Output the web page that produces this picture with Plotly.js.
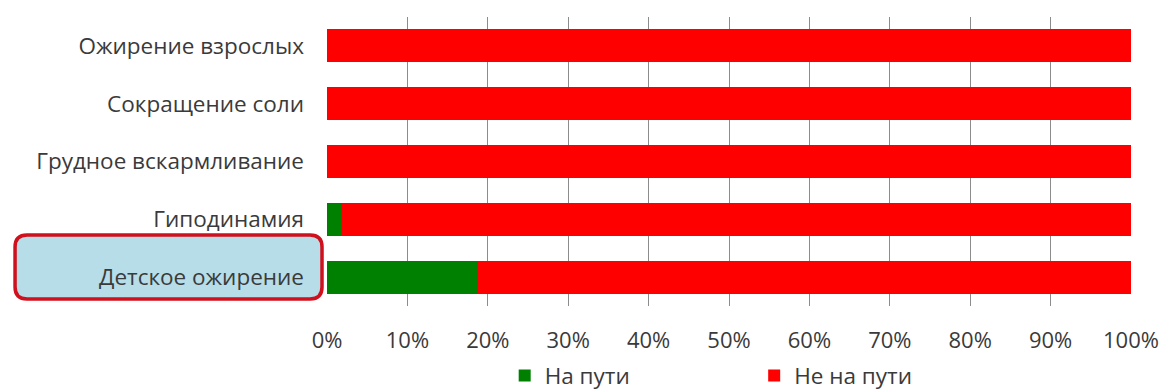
<!DOCTYPE html>
<html><head><meta charset="utf-8">
<script src="https://cdn.plot.ly/plotly-3.0.1.min.js"></script>
<style>html,body{margin:0;padding:0;background:#fff}#chart{width:1164px;height:390px}</style>
</head><body><div id="chart"></div>
<script>
const categories = ["Ожирение взрослых","Сокращение соли","Грудное вскармливание","Гиподинамия","Детское ожирение"];
const onTrack = [0, 0, 0, 1.9, 18.8];
const offTrack = [100, 100, 100, 98.1, 81.2];
const seriesNames = ["На пути","Не на пути"];
const tickVals = [0,10,20,30,40,50,60,70,80,90,100];
const tickText = tickVals.map(v => v + "%");

const catFont = {family: "Open Sans, sans-serif", size: 22.5, color: "#3a3a3a"};
const tickFont = {family: "Open Sans, sans-serif", size: 22, color: "#3a3a3a"};
const legFont = {family: "Open Sans, sans-serif", size: 22.5, color: "#3a3a3a"};
const data = [
  {type:"bar", orientation:"h", name:seriesNames[0], y:categories, x:onTrack, marker:{color:"#008000"}, hoverinfo:"x+y"},
  {type:"bar", orientation:"h", name:seriesNames[1], y:categories, x:offTrack, marker:{color:"#ff0000"}, hoverinfo:"x+y"}
];
const rx = 12/804, ry = 12/289;
const x0=-0.388, x1=-0.0062, y0=0.024, y1=0.246;
const path = `M ${x0+rx} ${y0} L ${x1-rx} ${y0} Q ${x1} ${y0} ${x1} ${y0+ry} L ${x1} ${y1-ry} Q ${x1} ${y1} ${x1-rx} ${y1} L ${x0+rx} ${y1} Q ${x0} ${y1} ${x0} ${y1-ry} L ${x0} ${y0+ry} Q ${x0} ${y0} ${x0+rx} ${y0} Z`;
const layout = {
  width:1164, height:390,
  margin:{l:327, r:33, t:17, b:84},
  paper_bgcolor:"#fff", plot_bgcolor:"#fff",
  barmode:"stack", bargap:0.43,
  font: catFont,
  showlegend:true,
  legend:{orientation:"h", x:0.221, xanchor:"left", yref:"container", y:0.036, yanchor:"middle", entrywidth:204.5, entrywidthmode:"pixels", font:legFont, traceorder:"normal"},
  xaxis:{range:[0,100], tickvals:tickVals, ticktext:tickText, showgrid:true, gridcolor:"#8c8c8c", gridwidth:1, zeroline:false, showline:false, ticks:"", ticklabelstandoff:19, tickfont:tickFont, automargin:false, fixedrange:true},
  yaxis:{autorange:"reversed", categoryorder:"array", categoryarray:categories, showgrid:false, zeroline:false, showline:false, ticks:"", ticklabelstandoff:22, tickfont:catFont, automargin:false, fixedrange:true},
  shapes:[{type:"path", xref:"paper", yref:"paper", path:path, fillcolor:"#b7dde8", line:{color:"#d0101c", width:3.5}, layer:"below"}]
};
Plotly.newPlot("chart", data, layout, {displayModeBar:false, staticPlot:true});
</script></body></html>
